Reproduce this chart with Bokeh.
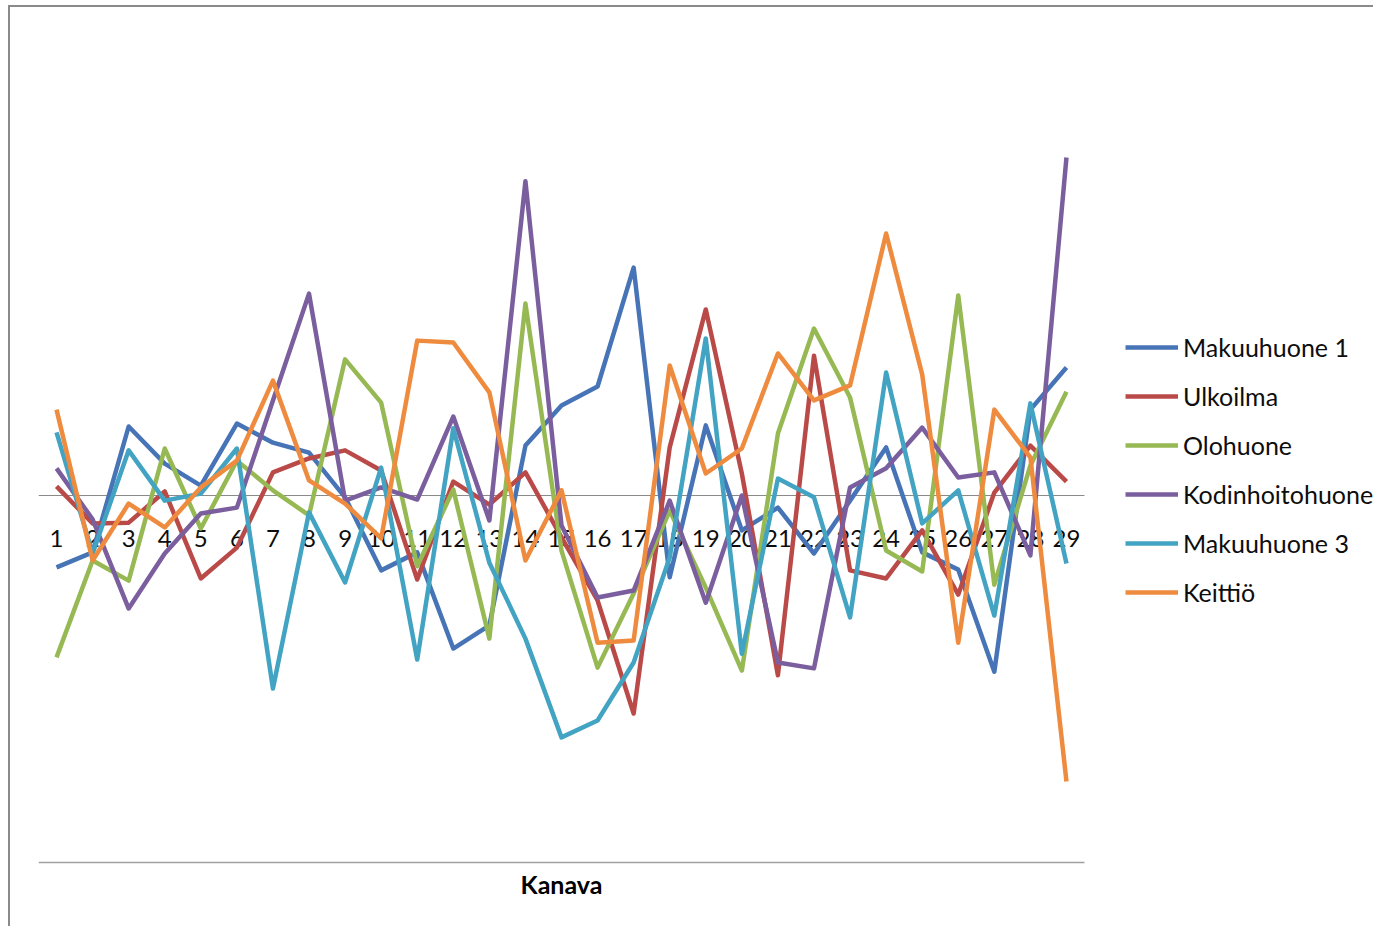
from bokeh.plotting import figure
from bokeh.models import Legend, LegendItem, Range1d
from bokeh.embed import file_html
from bokeh.resources import INLINE
from bokeh.core.properties import value

channels = list(range(1, 30))
tick_labels = [str(c) for c in channels]

makuuhuone_1 = [-1.96, -1.55, 1.88, 0.87, 0.27, 1.96, 1.44, 1.17, -0.05, -2.04,
                -1.55, -4.17, -3.54, 1.36, 2.45, 2.97, 6.21, -2.23, 1.91, -0.95,
                -0.33, -1.58, -0.14, 1.31, -1.55, -2.02, -4.80, 2.34, 3.49]
ulkoilma = [0.25, -0.76, -0.74, 0.11, -2.26, -1.42, 0.63, 1.01, 1.23, 0.68,
            -2.29, 0.38, -0.25, 0.63, -1.14, -2.86, -5.94, 1.31, 5.07, 0.60,
            -4.90, 3.81, -2.04, -2.26, -0.95, -2.70, 0.08, 1.36, 0.38]
olohuone = [-4.41, -1.77, -2.32, 1.28, -0.90, 0.95, 0.14, -0.54, 3.71, 2.53,
            -1.93, 0.16, -3.90, 5.23, -1.50, -4.69, -2.67, -0.41, -2.51, -4.77,
            1.69, 4.55, 2.67, -1.50, -2.07, 5.45, -2.43, 0.82, 2.83]
kodinhoitohuone = [0.74, -0.65, -3.08, -1.58, -0.49, -0.33, 2.59, 5.50, -0.14, 0.22,
                   -0.11, 2.15, -0.68, 8.56, -0.82, -2.78, -2.59, -0.14, -2.92, 0.00,
                   -4.55, -4.71, 0.22, 0.74, 1.85, 0.49, 0.63, -1.63, 9.21]
makuuhuone_3 = [1.72, -1.58, 1.23, -0.14, 0.05, 1.28, -5.26, -0.46, -2.37, 0.76,
                -4.47, 1.83, -1.83, -3.90, -6.59, -6.13, -4.55, -1.69, 4.28, -4.31,
                0.46, -0.05, -3.32, 3.35, -0.76, 0.14, -3.27, 2.51, -1.85]
keittio = [2.34, -1.77, -0.22, -0.87, 0.22, 0.95, 3.13, 0.41, -0.22, -1.17,
           4.22, 4.17, 2.81, -1.77, 0.14, -4.01, -3.95, 3.54, 0.60, 1.28,
           3.87, 2.59, 3.00, 7.14, 3.30, -4.01, 2.34, 1.04, -7.79]

series_names = ["Makuuhuone 1", "Ulkoilma", "Olohuone", "Kodinhoitohuone",
                "Makuuhuone 3", "Keittiö"]
series_values = [makuuhuone_1, ulkoilma, olohuone, kodinhoitohuone, makuuhuone_3, keittio]
colors = ["#4674B6", "#BA4A48", "#97B954", "#7A5E9E", "#43A3C2", "#EE8B3E"]
x_title = "Kanava"
axis_min, axis_max = -10.0, 10.0   # value axis extent (bottom line at axis_min)

FONT = "Lato"

# ---- layout (pixels) ----
W, H = 1365, 921          # canvas
LEFT = 28                 # canvas left border before the plot area
PLOT_W = 1046             # width of the category area
PLOT_H = 734              # height of the value area (axis_min..axis_max)
PLOT_TOP = 121            # canvas y of axis_max
frame_w = W - LEFT
band = PLOT_W / len(channels)
unit = PLOT_H / (axis_max - axis_min)

x0 = channels[0] - 0.5
x1 = channels[-1] + 0.5
x_end = x0 + frame_w / band
y_top = axis_max + PLOT_TOP / unit
y_bot = y_top - H / unit

p = figure(width=W, height=H,
           x_range=Range1d(x0, x_end), y_range=Range1d(y_bot, y_top),
           output_backend="svg", toolbar_location=None,
           min_border_left=LEFT, min_border_right=0,
           min_border_top=0, min_border_bottom=0)
p.styles = {"border-left": "2px solid #8a8a8a", "border-top": "2px solid #8a8a8a",
            "margin-left": "8px", "margin-top": "5px"}
p.outline_line_color = None
p.xgrid.visible = False
p.ygrid.visible = False
p.xaxis.visible = False
p.yaxis.visible = False
p.background_fill_color = "white"
p.border_fill_color = "white"

# zero line and bottom axis line across the category area
p.segment(x0=[x0, x0], x1=[x1, x1], y0=[0, axis_min], y1=[0, axis_min],
          line_color=["#8a8a8a", "#a0a0a0"], line_width=[1, 1.5])

# category labels just under the zero line
p.text(x=channels, y=[0] * len(channels), text=tick_labels,
       text_align="center", text_baseline="middle", y_offset=43,
       text_font=value(FONT), text_font_size="24px", text_color="#0d0d0d")

# axis title
p.text(x=[(x0 + x1) / 2], y=[axis_min], text=[x_title],
       text_align="center", text_baseline="middle", y_offset=21,
       text_font=value(FONT), text_font_style="bold", text_font_size="25px",
       text_color="#000000")

items = []
for name, vals, col in zip(series_names, series_values, colors):
    r = p.line(channels, vals, line_color=col, line_width=4.5, line_join="round")
    items.append(LegendItem(label=name, renderers=[r]))

legend_bottom = H - (PLOT_TOP + PLOT_H) + 255
legend = Legend(items=items, location=(1087, legend_bottom),
                glyph_width=53, glyph_height=30, label_height=30,
                label_standoff=5, spacing=19, padding=0, margin=0,
                border_line_color=None, background_fill_alpha=0,
                label_text_font=FONT, label_text_font_size="25px",
                label_text_color="#0d0d0d")
p.add_layout(legend)

open("out.html", "w").write(file_html(p, INLINE))
